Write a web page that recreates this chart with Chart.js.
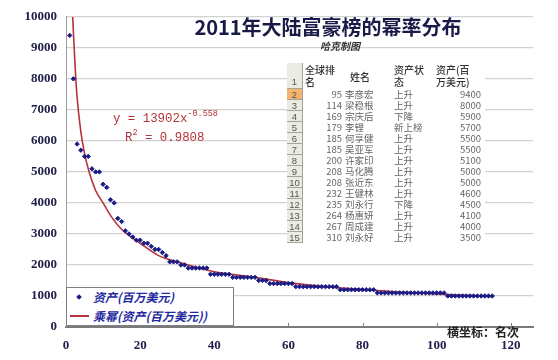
<!DOCTYPE html>
<html>
<head>
<meta charset="utf-8">
<script src="https://cdn.jsdelivr.net/npm/chart.js@4.4.1/dist/chart.umd.min.js"></script>
<style>
  body { margin: 0; background: #fff; }
  #wrap { position: relative; width: 558px; height: 360px; overflow: hidden; font-family: "Noto Sans CJK SC", sans-serif; }
  #wrap canvas { position: absolute; left: 0; top: 0; }
  .t { position: absolute; white-space: nowrap; }
  #table { position: absolute; left: 287px; top: 63px; width: 198px; height: 182px; background: #fff; }
  #legendBox { position: absolute; left: 66px; top: 287px; width: 166px; height: 37px; border: 1px solid #808080; background: #fff; }
</style>
</head>
<body>
<div id="wrap">
  <canvas id="chart" width="558" height="360"></canvas>
  <div id="table"></div>
  <div id="legendBox"></div>
</div>
<script>
// assets of each ranked billionaire (million USD), x = rank order 1..115
const assets = [
  9400, 8000, 5900, 5700, 5500, 5500, 5100, 5000, 5000, 4600,
  4500, 4100, 4000, 3500, 3400, 3100, 3000, 2900, 2800, 2800,
  2700, 2700, 2600, 2500, 2500, 2400, 2300, 2100, 2100, 2100,
  2000, 2000, 1900, 1900, 1900, 1900, 1900, 1900, 1700, 1700,
  1700, 1700, 1700, 1700, 1600, 1600, 1600, 1600, 1600, 1600,
  1600, 1500, 1500, 1500, 1400, 1400, 1400, 1400, 1400, 1400,
  1400, 1300, 1300, 1300, 1300, 1300, 1300, 1300, 1300, 1300,
  1300, 1300, 1300, 1200, 1200, 1200, 1200, 1200, 1200, 1200,
  1200, 1200, 1200, 1100, 1100, 1100, 1100, 1100, 1100, 1100,
  1100, 1100, 1100, 1100, 1100, 1100, 1100, 1100, 1100, 1100,
  1100, 1100, 1000, 1000, 1000, 1000, 1000, 1000, 1000, 1000,
  1000, 1000, 1000, 1000, 1000
];

// power trend line
const trendX = [1.8, 2, 2.5, 3, 4, 5, 6, 8, 10, 12, 15, 20, 25, 30, 40, 50, 60, 70, 80, 90, 100, 115];
const trendY = [10000, 9500, 8300, 7400, 6300, 5600, 5100, 4400, 4000, 3600, 3150, 2700, 2300, 2100, 1780, 1620, 1430, 1300, 1210, 1130, 1065, 985];

const xTicks = [0, 20, 40, 60, 80, 100, 120];

// embedded table
const tableRanks = [95, 114, 169, 179, 185, 185, 200, 208, 208, 232, 235, 264, 267, 310];
const tableNames = ['李彦宏', '梁稳根', '宗庆后', '李锂', '何享健', '吴亚军', '许家印', '马化腾', '张近东', '王健林', '刘永行', '杨惠妍', '周成建', '刘永好'];
const tableStatus = ['上升', '上升', '下降', '新上榜', '上升', '上升', '上升', '上升', '上升', '上升', '下降', '上升', '上升', '上升'];
const tableAssets = [9400, 8000, 5900, 5700, 5500, 5500, 5100, 5000, 5000, 4600, 4500, 4100, 4000, 3500];

const navy = '#1c1c86';
const trendRed = '#b3343a';
const tickFont = { family: '"Liberation Serif", serif', size: 13, weight: 'bold' };

const innerTicks = {
  id: 'innerTicks',
  afterDraw(chart) {
    const ctx = chart.ctx, xs = chart.scales.x, b = chart.chartArea.bottom;
    ctx.save();
    ctx.strokeStyle = '#808080';
    ctx.lineWidth = 1;
    xTicks.slice(1).forEach(v => {
      const px = Math.round(xs.getPixelForValue(v)) + 0.5;
      ctx.beginPath();
      ctx.moveTo(px, b - 4);
      ctx.lineTo(px, b);
      ctx.stroke();
    });
    ctx.restore();
  }
};

new Chart(document.getElementById('chart'), {
  type: 'scatter',
  data: {
    datasets: [
      {
        label: '资产(百万美元)',
        data: assets.map((v, i) => ({ x: i + 1, y: v })),
        backgroundColor: navy,
        borderColor: navy,
        pointStyle: 'rectRot',
        pointRadius: 2.2,
        order: 1
      },
      {
        type: 'line',
        label: '乘幂(资产(百万美元))',
        data: trendX.map((x, i) => ({ x: x, y: trendY[i] })),
        borderColor: trendRed,
        borderWidth: 1.6,
        pointRadius: 0,
        cubicInterpolationMode: 'monotone',
        fill: false,
        order: 2
      }
    ]
  },
  options: {
    responsive: false,
    animation: false,
    layout: { padding: { top: 12, right: 25, left: 0, bottom: 0 } },
    plugins: {
      legend: { display: false },
      tooltip: { enabled: false }
    },
    scales: {
      x: {
        type: 'linear',
        min: 0,
        max: 126,
        afterBuildTicks: s => { s.ticks = xTicks.map(v => ({ value: v })); },
        afterFit: s => { s.height = 33; },
        grid: { drawOnChartArea: false, drawTicks: false },
        border: { color: '#7a7a7a', width: 2 },
        ticks: { font: tickFont, color: '#20204a', padding: 11, callback: v => String(v) }
      },
      y: {
        min: 0,
        max: 10000,
        afterFit: s => { s.width = 66; },
        grid: { color: '#d2d2d2', lineWidth: 1.2, drawTicks: false },
        border: { color: '#a0a0a0', width: 1 },
        ticks: { stepSize: 1000, font: tickFont, color: '#20204a', padding: 9, callback: v => String(v) }
      }
    }
  },
  plugins: [innerTicks]
});

// text overlays
const wrap = document.getElementById('wrap');
function addText(parent, text, left, cy, css) {
  const d = document.createElement('div');
  d.className = 't';
  d.textContent = text;
  const lh = css.lh || 14;
  d.style.lineHeight = lh + 'px';
  d.style.top = (cy - lh / 2) + 'px';
  if (css.right !== undefined) {
    d.style.right = css.right + 'px';
  } else {
    d.style.left = left + 'px';
  }
  if (css.center) d.style.transform = 'translateX(-50%)';
  Object.assign(d.style, css.style || {});
  parent.appendChild(d);
  return d;
}

addText(wrap, '2011年大陆富豪榜的幂率分布', 328, 27, {
  lh: 22, center: true,
  style: { fontSize: '20px', fontWeight: '700', color: '#1a1a48' }
});
addText(wrap, '哈克制图', 320, 46, {
  lh: 12, style: { fontSize: '10px', fontWeight: '700', color: '#333', fontStyle: 'italic' }
});

// trend equation
const eq = addText(wrap, 'y = 13902x', 113, 114, {
  lh: 14, style: { fontFamily: '"Liberation Mono", monospace', fontSize: '12.4px', color: trendRed }
});
const sup = document.createElement('span');
sup.textContent = '-0.558';
sup.style.fontSize = '8.5px';
sup.style.verticalAlign = '6px';
eq.appendChild(sup);
const r2 = addText(wrap, 'R', 125, 133, {
  lh: 14, style: { fontFamily: '"Liberation Mono", monospace', fontSize: '12.4px', color: trendRed }
});
const sq = document.createElement('span');
sq.textContent = '2';
sq.style.fontSize = '8.5px';
sq.style.verticalAlign = '6px';
r2.appendChild(sq);
r2.appendChild(document.createTextNode(' = 0.9808'));

addText(wrap, '横坐标：名次', 447, 332, {
  lh: 14, style: { fontSize: '12px', fontWeight: '700', color: '#222' }
});

// legend
const lg = document.getElementById('legendBox');
const legendStyle = { fontSize: '12px', fontWeight: '700', fontStyle: 'italic', color: '#1f2aa0' };
const dot = document.createElement('div');
Object.assign(dot.style, { position: 'absolute', left: '10px', top: '7px', width: '4px', height: '4px', background: navy, transform: 'rotate(45deg)' });
lg.appendChild(dot);
const ln = document.createElement('div');
Object.assign(ln.style, { position: 'absolute', left: '3px', top: '27px', width: '19px', height: '2px', background: trendRed });
lg.appendChild(ln);
addText(lg, '资产(百万美元)', 26, 9, { lh: 14, style: legendStyle });
addText(lg, '乘幂(资产(百万美元))', 26, 28, { lh: 14, style: legendStyle });

// Excel table picture
const tb = document.getElementById('table');
const headStyle = { fontSize: '10px', color: '#333', fontWeight: '500' };
const cellStyle = { fontSize: '9.5px', color: '#666' };
function rowHeader(label, top, h, bg) {
  const c = document.createElement('div');
  Object.assign(c.style, {
    position: 'absolute', left: '0px', top: top + 'px', width: '15px', height: (h - 1) + 'px',
    background: bg, borderBottom: '1px solid #a5a596', borderRight: '1px solid #a0a0a0',
    fontSize: '9.5px', color: '#555', textAlign: 'center', lineHeight: (h === 11 ? 11 : 38) + 'px',
    fontFamily: '"Liberation Sans", sans-serif'
  });
  c.textContent = label;
  tb.appendChild(c);
}
rowHeader('1', 0, 26, '#ebebe2');
addText(tb, '全球排', 18, 7, { lh: 12, style: headStyle });
addText(tb, '名', 18, 19, { lh: 12, style: headStyle });
addText(tb, '姓名', 63, 14, { lh: 12, style: headStyle });
addText(tb, '资产状', 107, 7, { lh: 12, style: headStyle });
addText(tb, '态', 107, 19, { lh: 12, style: headStyle });
addText(tb, '资产(百', 149, 7, { lh: 12, style: headStyle });
addText(tb, '万美元)', 149, 19, { lh: 12, style: headStyle });

tableRanks.forEach((rank, r) => {
  const top = 26 + r * 11;
  const cy = top + 5.5;
  rowHeader(String(r + 2), top, 11, r === 0 ? '#f6b36e' : '#ebebe2');
  addText(tb, String(rank), 0, cy, { lh: 11, right: 198 - 55, style: cellStyle });
  addText(tb, tableNames[r], 58, cy, { lh: 11, style: cellStyle });
  addText(tb, tableStatus[r], 107, cy, { lh: 11, style: cellStyle });
  addText(tb, String(tableAssets[r]), 0, cy, { lh: 11, right: 198 - 194, style: cellStyle });
});
</script>
</body>
</html>
